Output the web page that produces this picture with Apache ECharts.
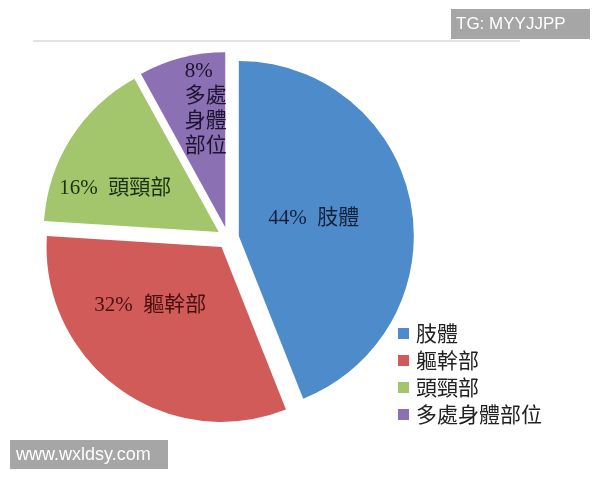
<!DOCTYPE html>
<html>
<head>
<meta charset="utf-8">
<script src="https://cdn.jsdelivr.net/npm/echarts@6/dist/echarts.min.js"></script>
<style>html,body{margin:0;padding:0;background:#fff;}#c{width:600px;height:480px;}</style>
</head>
<body>
<div id="c"></div>
<script>
const categories = ['肢體', '軀幹部', '頭頸部', '多處身體部位'];
const values = [44, 32, 16, 8];
const labelNames = ['肢體', '軀幹部', '頭頸部', '\n多處\n身體\n部位'];
const colors = ['#4E8BCB', '#D05B58', '#A3C56B', '#8C70B4'];
const labelColors = ['#14203a', '#4a1010', '#1c3012', '#1e1430'];
const labelShift = [[-14, 0], [-18, -15], [-27, 5], [3, -31]];

const chart = echarts.init(document.getElementById('c'));
chart.setOption({
  animation: false,
  color: colors,
  legend: {
    orient: 'vertical',
    left: 393,
    top: 318,
    itemWidth: 11,
    itemHeight: 11,
    itemGap: 6,
    icon: 'rect',
    selectedMode: false,
    textStyle: { fontSize: 21, color: '#222', fontFamily: '"Noto Sans CJK TC", "Liberation Serif"', padding: [0, 0, 0, 2] },
    data: categories
  },
  graphic: [
    { type: 'line', shape: { x1: 33, y1: 41, x2: 520, y2: 41 }, style: { stroke: '#e2e2e2', lineWidth: 2 } },
    { type: 'rect', shape: { x: 451, y: 9, width: 139, height: 30 }, style: { fill: '#a6a6a6' }, z: 10 },
    { type: 'text', x: 456, y: 24, style: { text: 'TG: MYYJJPP', fill: '#fff', font: '17px "Liberation Sans", Arial', verticalAlign: 'middle' }, z: 11 },
    { type: 'rect', shape: { x: 10, y: 440, width: 158, height: 29 }, style: { fill: '#a6a6a6' }, z: 10 },
    { type: 'text', x: 16, y: 455, style: { text: 'www.wxldsy.com', fill: '#fff', font: '18px "Liberation Sans", Arial', verticalAlign: 'middle' }, z: 11 }
  ],
  series: [{
    type: 'pie',
    center: [228, 238],
    radius: 175,
    startAngle: 90,
    clockwise: true,
    selectedMode: 'multiple',
    selectedOffset: 11,
    emphasis: { disabled: true },
    labelLine: { show: false },
    label: {
      show: true,
      position: 'inside',
      fontSize: 21,
      lineHeight: 25,
      fontFamily: '"Liberation Serif", "Noto Sans CJK TC"',
      formatter: function (p) {
        const n = labelNames[p.dataIndex];
        if (n.charAt(0) === '\n') {
          return '{p|' + p.value + '%}' + n;
        }
        return p.value + '%\u2002' + n;
      },
      rich: {
        p: {
          width: 42,
          align: 'left',
          fontSize: 21,
          lineHeight: 25,
          fontFamily: '"Liberation Serif", "Noto Sans CJK TC"'
        }
      }
    },
    labelLayout: function (p) {
      const s = labelShift[p.dataIndex];
      return { dx: s[0], dy: s[1] };
    },
    data: categories.map(function (c, i) {
      return {
        name: c,
        value: values[i],
        selected: true,
        label: { color: labelColors[i] }
      };
    })
  }]
});
</script>
</body>
</html>
